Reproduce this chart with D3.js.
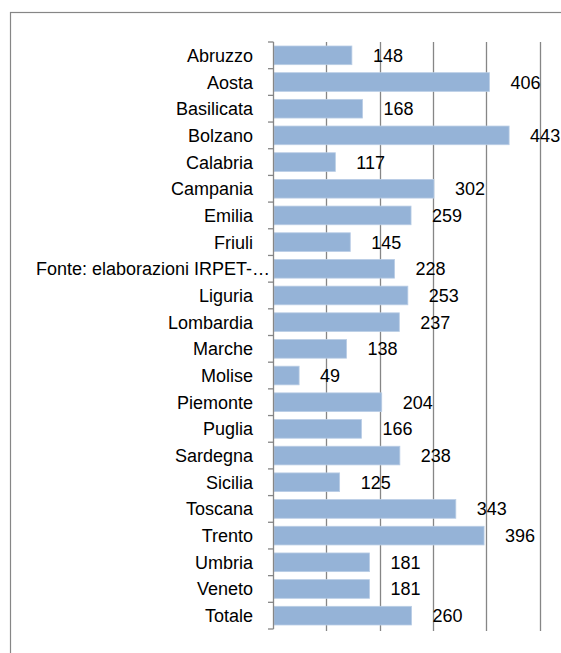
<!DOCTYPE html>
<html>
<head>
<meta charset="utf-8">
<script src="https://cdn.jsdelivr.net/npm/d3@7"></script>
<style>
  body { margin: 0; background: #fff; }
  text { font-family: "Liberation Sans", Arial, sans-serif; }
</style>
</head>
<body>
<div id="chart"></div>
<script>
var regions = ["Abruzzo", "Aosta", "Basilicata", "Bolzano", "Calabria", "Campania", "Emilia", "Friuli",
  "Fonte: elaborazioni IRPET-…", "Liguria", "Lombardia", "Marche", "Molise", "Piemonte", "Puglia",
  "Sardegna", "Sicilia", "Toscana", "Trento", "Umbria", "Veneto", "Totale"]
var values = [148, 406, 168, 443, 117, 302, 259, 145, 228, 253, 237, 138, 49, 204, 166, 238, 125, 343, 396, 181, 181, 260]
var gridTicks = [0, 100, 200, 300, 400, 500]

var width = 561, height = 653
var margin = {top: 42, right: 21.5, bottom: 24, left: 273}

var svg = d3.select("#chart")
  .append("svg")
  .attr("width", width)
  .attr("height", height)

// outer chart frame (runs past right and bottom edge)
svg.append("rect")
  .attr("x", 10.5)
  .attr("y", 12.5)
  .attr("width", 600)
  .attr("height", 700)
  .attr("fill", "none")
  .attr("stroke", "#868686")
  .attr("stroke-width", 1.2)

var g = svg.append("g")
  .attr("transform", "translate(" + margin.left + "," + margin.top + ")")

var w = width - margin.left - margin.right
var h = height - margin.top - margin.bottom

var x = d3.scaleLinear().domain([0, 500]).range([0, w])
var y = d3.scaleBand().domain(regions).range([0, h]).paddingInner(0.3).paddingOuter(0.15)

// vertical gridlines
g.append("g")
  .selectAll("line")
  .data(gridTicks.slice(1))
  .enter()
  .append("line")
  .attr("x1", d => Math.round(x(d)) + 0.5)
  .attr("x2", d => Math.round(x(d)) + 0.5)
  .attr("y1", 0)
  .attr("y2", h + 2)
  .attr("stroke", "#868686")
  .attr("stroke-width", 1.3)

// bars
g.selectAll(".bar")
  .data(values)
  .enter()
  .append("rect")
  .attr("class", "bar")
  .attr("x", 1)
  .attr("y", (d, i) => y(regions[i]))
  .attr("width", d => x(d) - 1)
  .attr("height", y.bandwidth())
  .attr("fill", "#95b3d7")
  .attr("stroke", "#b9cde5")
  .attr("stroke-width", 0.8)

// value labels
g.selectAll(".val")
  .data(values)
  .enter()
  .append("text")
  .attr("class", "val")
  .attr("x", d => x(d) + 21)
  .attr("y", (d, i) => y(regions[i]) + y.bandwidth() / 2)
  .attr("dy", "0.36em")
  .attr("font-size", 18)
  .attr("fill", "#000")
  .text(d => d)

// category axis with ticks between bands
var axis = g.append("g")
axis.append("line")
  .attr("x1", 0.5).attr("x2", 0.5)
  .attr("y1", 0).attr("y2", h)
  .attr("stroke", "#868686")
  .attr("stroke-width", 1.3)

var step = h / regions.length
axis.selectAll(".tk")
  .data(d3.range(regions.length + 1))
  .enter()
  .append("line")
  .attr("x1", -5).attr("x2", 0.5)
  .attr("y1", i => i * step).attr("y2", i => i * step)
  .attr("stroke", "#868686")
  .attr("stroke-width", 1.3)

axis.selectAll(".cat")
  .data(regions)
  .enter()
  .append("text")
  .attr("x", d => d.length > 20 ? -3 : -20)
  .attr("y", d => y(d) + y.bandwidth() / 2)
  .attr("dy", "0.36em")
  .attr("text-anchor", "end")
  .attr("font-size", 18)
  .attr("fill", "#000")
  .text(d => d)
</script>
</body>
</html>
